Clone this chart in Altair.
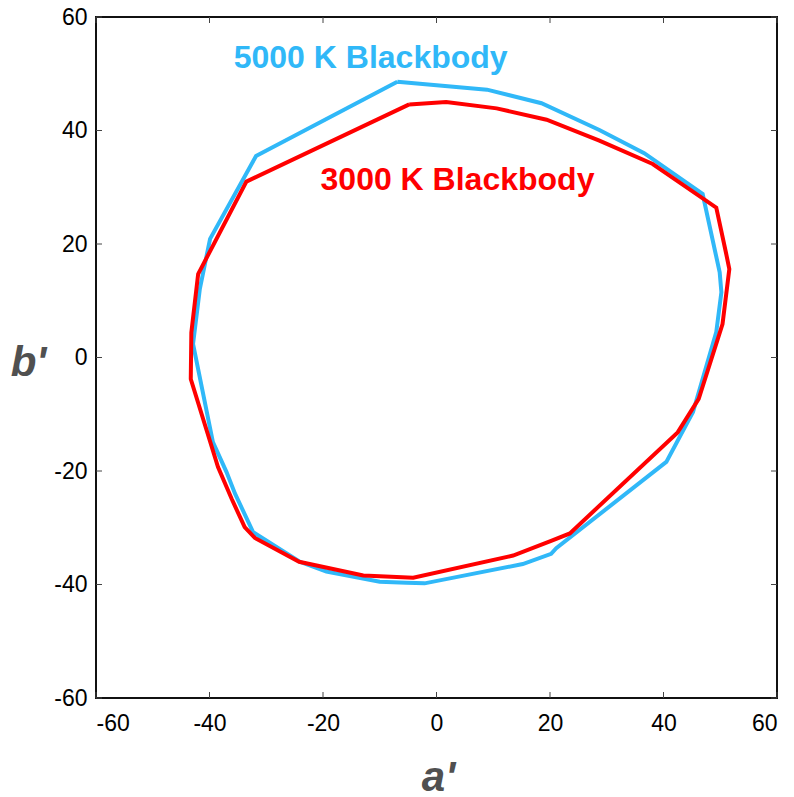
import altair as alt
import pandas as pd

# 5000 K Blackbody gamut outline (a', b'), closed polygon
bb5000_a = [-6.9, 8.9, 18.5, 28.7, 36.6, 46.9, 49.9, 50.2, 49.3, 45.2, 40.5, 21.1, 20.2, 15.2,
            -2.1, -5.3, -10.0, -19.4, -24.1, -32.3, -35.5, -37.0, -39.4, -42.9, -41.7, -39.9, -31.8]
bb5000_b = [48.6, 47.2, 44.8, 40.1, 36.0, 28.8, 15.0, 11.5, 4.5, -9.6, -18.4, -33.6, -34.6, -36.4,
            -39.8, -39.7, -39.5, -37.7, -36.0, -30.8, -24.0, -20.2, -14.9, 2.4, 12.1, 20.9, 35.5]

# 3000 K Blackbody gamut outline (a', b'), closed polygon
bb3000_a = [-4.8, 1.7, 10.6, 19.4, 28.7, 38.1, 49.3, 51.0, 51.6, 50.4, 46.2, 42.5, 23.5, 20.2,
            13.5, -4.1, -12.9, -24.2, -32.0, -33.8, -36.1, -38.5, -43.3, -43.2, -42.0, -33.5]
bb3000_b = [44.6, 45.0, 43.9, 41.9, 38.2, 34.1, 26.4, 18.5, 15.6, 5.9, -7.3, -13.2, -31.0, -32.3,
            -34.9, -38.8, -38.4, -36.0, -31.8, -29.9, -24.9, -19.3, -3.8, 4.4, 14.7, 31.0]

series_names = ["5000 K Blackbody", "3000 K Blackbody"]
series_colors = ["#30B8F8", "#FF0000"]
label_a = [-11.6, 3.7]
label_b = [51.1, 29.5]

tick_values = [-60, -40, -20, 0, 20, 40, 60]

rows = []
for name, aa, bb in [(series_names[0], bb5000_a, bb5000_b), (series_names[1], bb3000_a, bb3000_b)]:
    pts = list(zip(aa, bb)) + [(aa[0], bb[0])]
    for i, (a, b) in enumerate(pts):
        rows.append({"series": name, "i": i, "a": a, "b": b})
df = pd.DataFrame(rows)
labels_df = pd.DataFrame({"series": series_names, "a": label_a, "b": label_b})
ticks_df = pd.DataFrame({"v": tick_values})

W = 681
H = 681
FONT = "Liberation Sans"

xscale = alt.Scale(domain=[-60, 60], nice=False, zero=False)
yscale = alt.Scale(domain=[-60, 60], nice=False, zero=False)
color = alt.Color("series:N", scale=alt.Scale(domain=series_names, range=series_colors), legend=None)

lines = alt.Chart(df).mark_line(strokeWidth=4, clip=True).encode(
    x=alt.X("a:Q", scale=xscale, axis=alt.Axis(
        values=tick_values, ticks=False, domain=False, grid=False,
        labelExpr="'' + datum.value",
        labelFont=FONT, labelFontSize=23, labelColor="black", labelPadding=14,
        title="a'", titleFont=FONT, titleFontSize=42, titleFontWeight="bold",
        titleFontStyle="italic", titleColor="#505050",
        titleX=342, titleY=92, titleBaseline="alphabetic", titleAlign="center")),
    y=alt.Y("b:Q", scale=yscale, axis=alt.Axis(
        values=tick_values, ticks=False, domain=False, grid=False,
        labelExpr="'' + datum.value",
        labelFont=FONT, labelFontSize=23, labelColor="black", labelPadding=9,
        title="b'", titleFont=FONT, titleFontSize=42, titleFontWeight="bold",
        titleFontStyle="italic", titleColor="#505050", titleAngle=0,
        titleX=-68, titleY=358, titleBaseline="alphabetic", titleAlign="center")),
    color=color,
    order=alt.Order("i:Q"),
    detail="series:N",
)

texts = alt.Chart(labels_df).mark_text(
    font=FONT, fontSize=32, fontWeight="bold", align="center", baseline="alphabetic"
).encode(
    x=alt.X("a:Q", scale=xscale),
    y=alt.Y("b:Q", scale=yscale),
    text="series:N",
    color=color,
)

tick_len = 6
tick_color = "#444444"
bottom_ticks = alt.Chart(ticks_df).mark_rule(color=tick_color, strokeWidth=1).encode(
    x=alt.X("v:Q", scale=xscale), y=alt.value(H), y2=alt.value(H - tick_len))
top_ticks = alt.Chart(ticks_df).mark_rule(color=tick_color, strokeWidth=1).encode(
    x=alt.X("v:Q", scale=xscale), y=alt.value(0), y2=alt.value(tick_len))
left_ticks = alt.Chart(ticks_df).mark_rule(color=tick_color, strokeWidth=1).encode(
    y=alt.Y("v:Q", scale=yscale), x=alt.value(0), x2=alt.value(tick_len))
right_ticks = alt.Chart(ticks_df).mark_rule(color=tick_color, strokeWidth=1).encode(
    y=alt.Y("v:Q", scale=yscale), x=alt.value(W), x2=alt.value(W - tick_len))

chart = alt.layer(
    bottom_ticks, top_ticks, left_ticks, right_ticks, lines, texts
).properties(
    width=W, height=H,
    autosize=alt.AutoSizeParams(type="none"),
    padding={"left": 96, "top": 17, "right": 17, "bottom": 99},
    background="white",
).configure_view(stroke="#111111", strokeWidth=2)

chart.save("out.html", embed_options={"renderer": "svg", "actions": False})
